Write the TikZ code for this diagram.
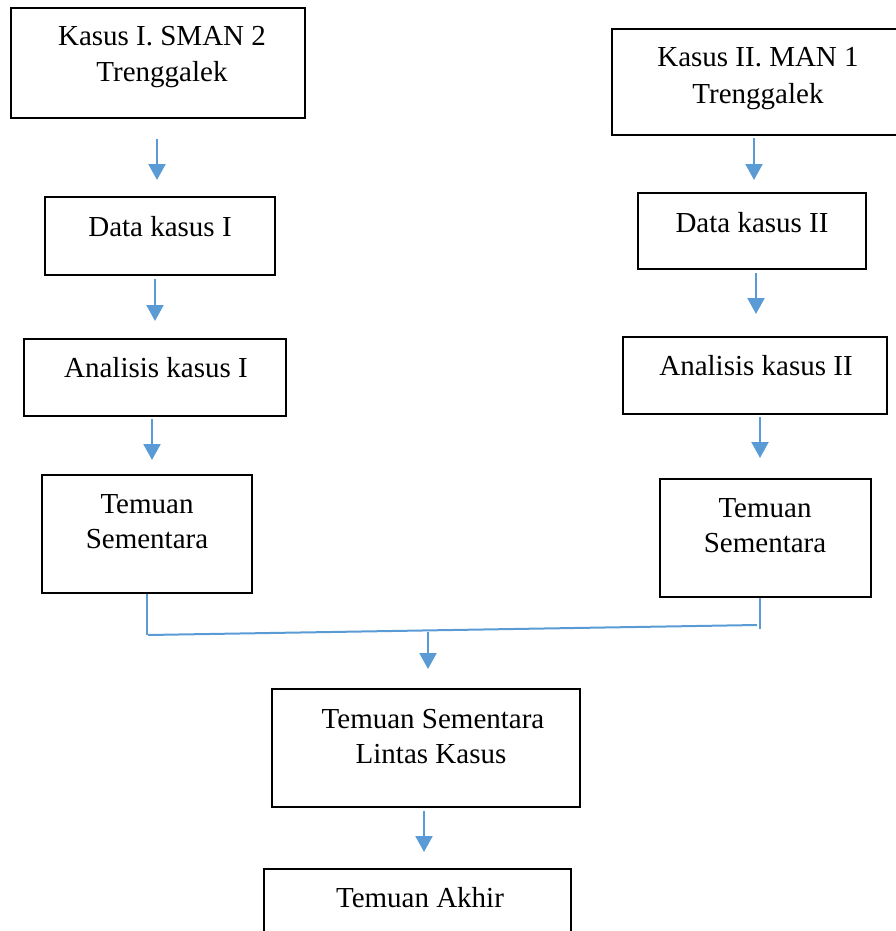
\documentclass[tikz,border=0pt]{standalone}
\usepackage{fontspec}
\setmainfont{Liberation Serif}
\usetikzlibrary{arrows.meta}
\definecolor{arrblue}{HTML}{5B9BD5}
\begin{document}
\begin{tikzpicture}[x=1pt,y=-1pt,
  box/.style={draw=black, line width=2pt, rectangle, inner sep=0pt},
  txt/.style={font=\fontsize{29}{36}\selectfont, inner sep=0pt, anchor=base},
  arr/.style={draw=arrblue, line width=2.2pt, -{Triangle[width=17pt,length=16pt]}},
  ln/.style={draw=arrblue, line width=2pt}]
\useasboundingbox (0,0) rectangle (896,931);

% boxes
\node[box, minimum width=294pt, minimum height=110pt] (k1) at (158,63) {};
\node[box, minimum width=292pt, minimum height=106pt] (k2) at (758,82) {};
\node[box, minimum width=230pt, minimum height=78pt] (d1) at (160,236) {};
\node[box, minimum width=228pt, minimum height=76pt] (d2) at (752,231) {};
\node[box, minimum width=262pt, minimum height=77pt] (a1) at (155,377.5) {};
\node[box, minimum width=264pt, minimum height=77pt] (a2) at (755,375.5) {};
\node[box, minimum width=210pt, minimum height=118pt] (t1) at (147,534) {};
\node[box, minimum width=211pt, minimum height=118pt] (t2) at (765.5,538) {};
\node[box, minimum width=308pt, minimum height=118pt] (l) at (426,748) {};
\node[box, minimum width=307pt, minimum height=122pt] (e) at (417.5,930) {};

% texts
\node[txt] (k1a) at (162,46) {Kasus I. SMAN 2};
\node[txt] (k1b) at (162,82) {Trenggalek};
\node[txt] (k2a) at (758,67) {Kasus II. MAN 1};
\node[txt] (k2b) at (758,103) {Trenggalek};
\node[txt] (d1a) at (160,236) {Data kasus I};
\node[txt] (d2a) at (752,232) {Data kasus II};
\node[txt] (a1a) at (156,377) {Analisis kasus I};
\node[txt] (a2a) at (756,375) {Analisis kasus II};
\node[txt] (t1a) at (147,513) {Temuan};
\node[txt] (t1b) at (147,548) {Sementara};
\node[txt] (t2a) at (765,517) {Temuan};
\node[txt] (t2b) at (765,552) {Sementara};
\node[txt] (la) at (433,728) {Temuan Sementara};
\node[txt] (lb) at (431,763) {Lintas Kasus};
\node[txt] (ea) at (420,907) {Temuan Akhir};

% arrows
\draw[arr] ([shift={(-1,20)}]k1.south) -- ([shift={(-3,-16)}]d1.north);
\draw[arr] ([shift={(-4,2)}]k2.south) -- ([shift={(2,-12)}]d2.north);
\draw[arr] ([shift={(-5,3)}]d1.south) -- ([shift={(0,-17)}]a1.north);
\draw[arr] ([shift={(4,3)}]d2.south) -- ([shift={(1,-22)}]a2.north);
\draw[arr] ([shift={(-3,2)}]a1.south) -- ([shift={(5,-14)}]t1.north);
\draw[arr] ([shift={(5,2)}]a2.south) -- ([shift={(-5.5,-20)}]t2.north);

% merge
\coordinate (mL) at (148,635);
\coordinate (mR) at (757,625);
\draw[ln] (t1.south) -- ++(0,41);
\draw[ln] ([shift={(-5.5,0)}]t2.south) -- ++(0,31);
\draw[ln] (mL) -- (mR);
\draw[arr] ([shift={(2,-56)}]l.north) -- ([shift={(2,-19)}]l.north);
\draw[arr] ([shift={(-2,3)}]l.south) -- ([shift={(6.5,-16)}]e.north);
\end{tikzpicture}
\end{document}
